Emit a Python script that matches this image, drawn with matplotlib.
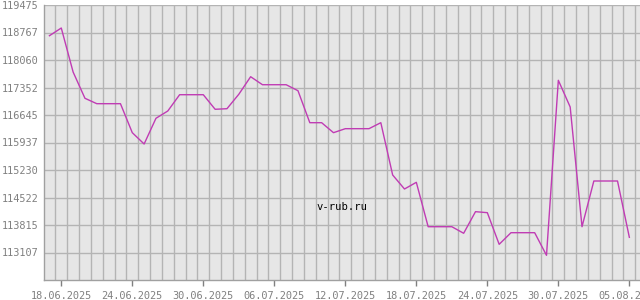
import datetime as dt
import matplotlib
matplotlib.use("Agg")
import matplotlib.pyplot as plt
import matplotlib.dates as mdates
import numpy as np

# daily rate, 17.06.2025 .. 05.08.2025
start = dt.date(2025, 6, 17)
values = [
    118685, 118883, 117751, 117075, 116936, 116936, 116936, 116190, 115899, 116560,
    116748, 117167, 117167, 117167, 116792, 116807, 117178, 117630, 117424, 117424,
    117424, 117270, 116447, 116447, 116190, 116293, 116293, 116293, 116447, 115102,
    114741, 114913, 113771, 113771, 113771, 113602, 114158, 114132, 113318, 113617,
    113617, 113617, 113035, 117538, 116851, 113771, 114947, 114947, 114947, 113498,
]
dates = [start + dt.timedelta(days=i) for i in range(len(values))]
tick_dates = ["18.06.2025", "24.06.2025", "30.06.2025", "06.07.2025", "12.07.2025",
              "18.07.2025", "24.07.2025", "30.07.2025", "05.08.2025"]
y_min, y_max = 112400, 119475

font = "DejaVu Sans Mono"
grey = "#808080"

fig = plt.figure(figsize=(6.4, 3.0), dpi=100)
ax = fig.add_axes([44 / 640, 20 / 300, 596 / 640, 275 / 300])
ax.set_facecolor("#e6e6e6")

x = mdates.date2num(dates)
ax.plot(x, values, color="#c03cb4", lw=1.0, zorder=3)

# limits (x in days)
x18 = mdates.date2num(dt.date(2025, 6, 18))
ax.set_xlim(x18 - 1.46, x18 + 48.9)
ax.set_ylim(y_min, y_max)

# y ticks every 1/10 of the range, labels truncated
yt = np.linspace(y_min, y_max, 11)
ax.set_yticks(yt[1:])
ax.set_yticklabels([str(int(v)) for v in yt[1:]])

# x ticks at labeled dates, grid between days
xt = [mdates.date2num(dt.datetime.strptime(s, "%d.%m.%Y")) for s in tick_dates]
ax.set_xticks(xt)
ax.set_xticklabels(tick_dates)
ax.set_xticks(np.arange(x18 - 0.5, x18 + 49, 1.0), minor=True)

ax.grid(True, which="minor", axis="x", color="#b4b4b4", lw=1.0)
ax.grid(True, which="major", axis="y", color="#b4b4b4", lw=1.0)
ax.set_axisbelow(True)

ax.tick_params(axis="x", which="major", length=4, width=1, color=grey, pad=4,
               labelsize=7.4, labelcolor=grey)
ax.tick_params(axis="x", which="minor", length=0)
ax.tick_params(axis="y", length=0, pad=4, labelsize=7.4, labelcolor=grey)
for lab in ax.get_xticklabels() + ax.get_yticklabels():
    lab.set_family(font)

for side in ["top", "right"]:
    ax.spines[side].set_visible(False)
for side in ["left", "bottom"]:
    ax.spines[side].set_color("#a0a0a0")
    ax.spines[side].set_linewidth(1.0)

ax.text(0.5, 0.265, "v-rub.ru", transform=ax.transAxes, ha="center", va="center",
        fontsize=7.6, family=font, color="black")

fig.savefig("out.png", dpi=100)
